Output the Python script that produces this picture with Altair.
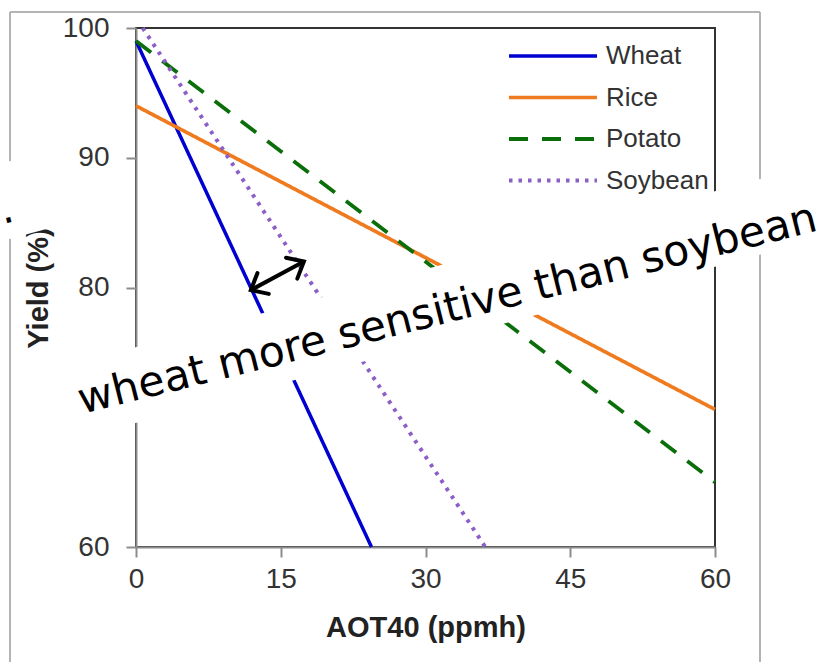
import altair as alt
import pandas as pd

# ---- data ----
crops = ["Wheat", "Rice", "Potato", "Soybean"]
aot40_start = [0.0, 0.0, 0.0, 0.7]
yield_start = [99.0, 94.0, 99.0, 100.0]
aot40_end = [24.4, 60.0, 60.0, 36.2]
yield_end = [60.0, 70.6, 65.0, 60.0]

x_ticks = [0, 15, 30, 45, 60]
y_ticks = [60, 70, 80, 90, 100]

colors = ["#0000D0", "#F07A1E", "#0A6E0A", "#8B5FC7"]
dashes = [[1, 0], [1, 0], [19, 14], [3.5, 6]]
widths = [3.5, 4, 5, 3.5]

annotation = "wheat more sensitive than soybean"
arrow_x = [11.9, 17.4]
arrow_y = [79.8, 82.0]
arrow_ang = [151.6, 331.6]

rows = []
for c, xs, ys, xe, ye in zip(crops, aot40_start, yield_start, aot40_end, yield_end):
    rows.append({"crop": c, "aot40": xs, "yield": ys})
    rows.append({"crop": c, "aot40": xe, "yield": ye})
df = pd.DataFrame(rows)

xs_ = alt.Scale(domain=[0, 60], nice=False, zero=False)
ys_ = alt.Scale(domain=[60, 100], nice=False, zero=False)
x_axis = alt.Axis(values=x_ticks, title="AOT40 (ppmh)", labelFlush=False)
y_axis = alt.Axis(values=y_ticks, title="Yield (%)", labelFlush=False)

legend = alt.Legend(
    orient="none", legendX=371, legendY=13, title=None,
    symbolType="stroke", symbolSize=7744, symbolStrokeWidth=5,
    clipHeight=30, rowPadding=11.5, padding=0,
    labelFont="Liberation Sans", labelFontSize=26, labelColor="#333",
    labelOffset=7,
)

lines = alt.Chart(df).mark_line(strokeCap="butt").encode(
    x=alt.X("aot40:Q", scale=xs_, axis=x_axis),
    y=alt.Y("yield:Q", scale=ys_, axis=y_axis),
    color=alt.Color("crop:N", scale=alt.Scale(domain=crops, range=colors), legend=legend),
    strokeDash=alt.StrokeDash("crop:N", scale=alt.Scale(domain=crops, range=dashes), legend=legend),
    strokeWidth=alt.StrokeWidth("crop:N", scale=alt.Scale(domain=crops, range=widths), legend=None),
)

one = pd.DataFrame({"k": [0]})

def seg(x1, y1, x2, y2, color, w):
    return alt.Chart(one).mark_rule(color=color, strokeWidth=w, strokeCap="butt").encode(
        x=alt.value(x1), y=alt.value(y1), x2=alt.value(x2), y2=alt.value(y2))

# outer slide frame (grey), coordinates relative to plot origin
frame = [
    seg(-126, -16, 624, -16, "#b4b4b4", 2),
    seg(-126, -16, -126, 135, "#b4b4b4", 2),
    seg(-126, 210, -126, 640, "#b4b4b4", 2),
    seg(624, -16, 624, 640, "#b4b4b4", 2),
]

# white boxes behind annotation text
band_main = seg(-61, 373.4, 694, 170, "white", 73)
band_left = seg(-236, 201.6, -91, 162.6, "white", 75)

text = alt.Chart(pd.DataFrame({"t": [annotation]})).mark_text(
    font="DejaVu Sans", fontSize=42.5, angle=346, align="left", baseline="alphabetic", color="black"
).encode(text="t:N", x=alt.value(82 - 136), y=alt.value(414 - 28))

dot = alt.Chart(pd.DataFrame({"t": ["."]})).mark_text(
    font="DejaVu Sans", fontSize=41, angle=346, align="left", baseline="alphabetic", color="black"
).encode(text="t:N", x=alt.value(-133), y=alt.value(196))

arrow_df = pd.DataFrame({"aot40": [arrow_x[0]], "yield": [arrow_y[0]],
                         "aot40_2": [arrow_x[1]], "yield_2": [arrow_y[1]]})
shaft = alt.Chart(arrow_df).mark_rule(color="black", strokeWidth=4).encode(
    x=alt.X("aot40:Q", scale=xs_, axis=x_axis),
    y=alt.Y("yield:Q", scale=ys_, axis=y_axis),
    x2="aot40_2:Q", y2="yield_2:Q",
)

heads_df = pd.DataFrame({"aot40": arrow_x, "yield": arrow_y, "ang": arrow_ang})
heads = alt.Chart(heads_df).mark_point(
    shape="M-1,-0.85L0,0L-1,0.85", filled=False, size=780, strokeWidth=4,
    color="black", opacity=1, strokeJoin="miter", strokeCap="round",
).encode(
    x=alt.X("aot40:Q", scale=xs_, axis=x_axis),
    y=alt.Y("yield:Q", scale=ys_, axis=y_axis),
    angle=alt.Angle("ang:Q", scale=None),
)

chart = alt.layer(*frame, lines, band_main, band_left, text, dot, shaft, heads).properties(
    width=579, height=519,
    autosize=alt.AutoSizeParams(type="none"),
    padding={"left": 136, "top": 28, "right": 111, "bottom": 115},
    background="white",
).configure_view(
    stroke="#333", strokeWidth=2
).configure_axis(
    grid=False,
    labelFont="Liberation Sans", labelFontSize=28, labelColor="#333",
    tickSize=10, tickColor="#8c8c8c", tickWidth=2,
    domainColor="#8c8c8c", domainWidth=2,
    titleFont="Liberation Sans", titleFontSize=29, titleFontWeight="bold", titleColor="#222",
).configure_axisX(
    labelPadding=8, titlePadding=20,
).configure_axisY(
    labelPadding=17, titlePadding=9,
)

chart.save("out.html", embed_options={"renderer": "svg", "actions": False})
